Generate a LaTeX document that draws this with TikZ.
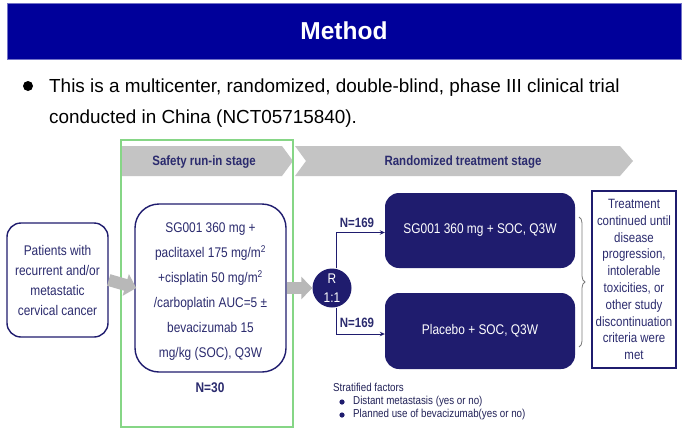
\documentclass[tikz,border=0pt]{standalone}
\usepackage{fontspec}
\setmainfont{Liberation Sans}[FakeStretch=0.85]
\newfontfamily\plainfont{Liberation Sans}
\usetikzlibrary{arrows.meta,decorations.pathreplacing,calc}
\definecolor{titleblue}{HTML}{00009A}
\definecolor{navy}{HTML}{1F1C6E}
\definecolor{navytext}{HTML}{2B2B6E}
\definecolor{chevgray}{HTML}{C4C4C4}
\definecolor{arrgray}{HTML}{B8B8B8}
\definecolor{greenbox}{HTML}{86D686}
\definecolor{bracegray}{HTML}{7A7A7A}
\begin{document}
\begin{tikzpicture}[x=1pt,y=-1pt,
  titlebar/.style={fill=titleblue, draw=titleblue!55!white, line width=0.8pt, minimum width=674pt, minimum height=56pt, inner sep=0pt, text=white, font=\plainfont\fontsize{24.5}{28}\selectfont\bfseries},
  bodytext/.style={anchor=base west, inner sep=0pt, font=\plainfont\fontsize{18.9}{23}\selectfont, text=black},
  chevtext/.style={inner sep=0pt, text=navytext, font=\fontsize{13.5}{16}\selectfont\bfseries},
  outlinebox/.style={draw=navy, line width=1.4pt, align=center, text=navytext, inner sep=0pt},
  navybox/.style={fill=navy, rounded corners=14pt, minimum width=190pt, inner sep=0pt, text=white, font=\fontsize{14}{17}\selectfont},
  countlabel/.style={inner sep=0pt, text=navytext, font=\fontsize{13.5}{16}\selectfont\bfseries},
  grayarrow/.style={draw=arrgray, line width=12pt, -{Triangle[length=11pt,width=22pt]}},
  thinarrow/.style={draw=navy, line width=0.9pt, -{Stealth[length=5pt,width=4.5pt]}},
  smalltext/.style={anchor=west, inner sep=0pt, text=navytext!80!black, font=\fontsize{11.5}{14}\selectfont},
]
\useasboundingbox (0,0) rectangle (692,436);
\fill[white] (0,0) rectangle (692,436);

% title
\node[titlebar] (title) at (344,31) {Method};

% intro bullet
\fill[black] (28,86) circle (5pt);
\node[bodytext] (intro1) at (49,92) {This is a multicenter, randomized, double-blind, phase III clinical trial};
\node[bodytext] (intro2) at (49,123) {conducted in China (NCT05715840).};

% chevrons
\fill[chevgray] (120,146) -- (282,146) -- (293,161) -- (282,176) -- (120,176) -- cycle;
\fill[chevgray] (295,146) -- (620,146) -- (633,161) -- (620,176) -- (295,176) -- (306,161) -- cycle;
\node[chevtext] (stage1) at (204,162) {Safety run-in stage};
\node[chevtext] (stage2) at (463,162) {Randomized treatment stage};

% green frame
\draw[greenbox, line width=1.6pt] (121,140) rectangle (293,427);

% patients
\node[outlinebox, rounded corners=14pt, minimum width=101pt, minimum height=114pt,
      font=\fontsize{14}{20}\selectfont] (pat) at (57.5,280)
  {Patients with\\recurrent and/or\\metastatic\\cervical cancer};

% safety run-in regimen
\node[outlinebox, rounded corners=24pt, minimum width=151pt, minimum height=168pt] (sg) at (210.5,288) {};
\node[inner sep=0pt, align=center, text=navytext, font=\fontsize{14}{25}\selectfont] (sgt) at (210.5,292)
  {SG001 360 mg +\\paclitaxel 175 mg/m\textsuperscript{2}\\+cisplatin 50 mg/m\textsuperscript{2}\\/carboplatin AUC=5 \raisebox{0.5pt}{±}\\bevacizumab 15\\mg/kg (SOC), Q3W};
\node[countlabel, font=\fontsize{14}{16}\selectfont\bfseries] (n30) at (210,388) {N=30};

% randomisation
\node[circle, fill=navy, minimum size=39pt, inner sep=0pt, align=center, text=white,
      font=\fontsize{14}{19}\selectfont] (R) at (332,288) {R\\1:1};

% arms
\node[navybox, minimum height=75pt] (armA) at (480,230.5) {SG001 360 mg + SOC, Q3W};
\node[navybox, minimum height=76pt] (armB) at (480,331) {Placebo + SOC, Q3W};

% connectors
\draw[grayarrow] (pat.east) -- ([xshift=2pt]sg.west);
\draw[grayarrow] (sg.east) -- (R.west);
\draw[thinarrow] ([xshift=4pt]R.north) |- ([yshift=-2pt]armA.west);
\draw[thinarrow] ([xshift=4pt]R.south) |- ([yshift=-3pt]armB.west);
\node[countlabel] (nA) at (357,223) {N=169};
\node[countlabel] (nB) at (357,323) {N=169};

% brace
\coordinate (braceTop) at (579,217);
\coordinate (braceBot) at (579,347);
\draw[bracegray, line width=0.8pt, decorate, decoration={brace, amplitude=6pt}] (braceTop) -- (braceBot);

% continuation box
\node[outlinebox, line width=1.2pt, minimum width=84pt, minimum height=177pt,
      font=\fontsize{13.5}{16.8}\selectfont] (cont) at (634,279.5)
  {Treatment\\continued until\\disease\\progression,\\intolerable\\toxicities, or\\other study\\discontinuation\\criteria were\\met};

% stratified factors
\node[smalltext] (strat) at (333,387) {Stratified factors};
\fill[navy] (342,402) circle (2.6pt);
\fill[navy] (342,415) circle (2.6pt);
\node[smalltext] (f1) at (353,402) {Distant metastasis (yes or no)};
\node[smalltext] (f2) at (353,415) {Planned use of bevacizumab(yes or no)};
\end{tikzpicture}
\end{document}
